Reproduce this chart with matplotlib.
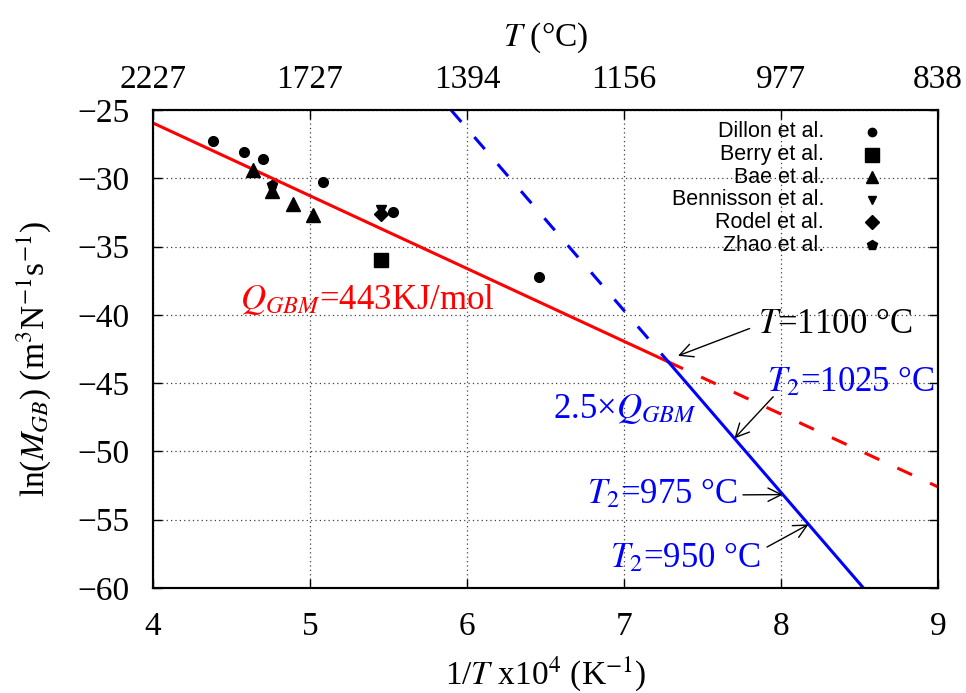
import numpy as np
import matplotlib
matplotlib.use("Agg")
import matplotlib.pyplot as plt

plt.rcParams['font.family'] = ['Liberation Serif', 'DejaVu Serif']
plt.rcParams['mathtext.fontset'] = 'stix'
plt.rcParams['font.size'] = 24

# ==============data===============
dillon_x = [4.38, 4.58, 4.70, 5.08, 5.53, 6.46]
dillon_y = [-27.3, -28.1, -28.6, -30.3, -32.5, -37.2]
berry_x = [5.45]
berry_y = [-36.0]
bae_x = [4.64, 4.76, 4.89, 5.02]
bae_y = [-29.4, -30.9, -31.9, -32.7]
bennisson_x = [5.45]
bennisson_y = [-32.3]
rodel_x = [5.45]
rodel_y = [-32.6]
zhao_x = [4.76]
zhao_y = [-30.5]

# Arrhenius fit: ln(M) = ln(M0) - Q/(R T)
q_gbm = 443e3        # J/mol
r_gas = 8.314
ln_m0 = -4.64
q_factor = 2.5
t_kink = 1100        # degC
t2_marks = [1025, 975, 950]


def inv_t(t_c):
    return 1e4 / (t_c + 273.15)


def ln_m_red(x):
    return ln_m0 - q_gbm / r_gas * np.asarray(x) * 1e-4


x_k = inv_t(t_kink)
y_k = ln_m_red(x_k)
blue_slope = -q_factor * q_gbm / r_gas * 1e-4


def ln_m_blue(x):
    return y_k + blue_slope * (np.asarray(x) - x_k)


fig = plt.figure(figsize=(9.66, 6.93), dpi=100)
ax = fig.add_axes([0.1584, 0.1515, 0.8126, 0.6898])

ymin, ymax = -60, -25

# fitted lines
x_top = x_k + (ymax - y_k) / blue_slope
x_bot = x_k + (ymin - y_k) / blue_slope
red_solid = np.array([4.0, x_k])
red_dash = np.array([x_k, 9.0])
blue_dash = np.array([x_top, x_k])
blue_solid = np.array([x_k, x_bot])
ax.plot(red_solid, ln_m_red(red_solid), color='#ff0000', lw=2.2)
ax.plot(red_dash, ln_m_red(red_dash), color='#ff0000', lw=2.2, dashes=(5.3, 6.5))
ax.plot(blue_dash, ln_m_blue(blue_dash), color='#0000ff', lw=2.2, dashes=(5.2, 6.5))
ax.plot(blue_solid, ln_m_blue(blue_solid), color='#0000ff', lw=2.2)

# experimental points
ax.plot(dillon_x, dillon_y, 'o', color='k', ms=7)
ax.plot(berry_x, berry_y, 's', color='k', ms=10)
ax.plot(bae_x, bae_y, '^', color='k', ms=9.5)
ax.plot(bennisson_x, bennisson_y, 'v', color='k', ms=7)
ax.plot(rodel_x, rodel_y, 'D', color='k', ms=7)
ax.plot(zhao_x, zhao_y, 'p', color='k', ms=7.5)

ax.set_xlim(4, 9)
ax.set_ylim(ymin, ymax)
ax.set_xticks(np.arange(4, 10, 1))
ax.set_yticks(np.arange(-60, -24, 5))
ax.yaxis.set_major_formatter(plt.FuncFormatter(lambda v, p: '\u2212%d' % abs(v)))
ax.grid(True, color='0.25', lw=0.9, linestyle=(0, (1, 2.5)))
ax.tick_params(direction='in', length=6.5, width=1, top=False, right=True)
ax.tick_params(axis='x', pad=17)
ax.tick_params(axis='y', pad=17)
for s in ax.spines.values():
    s.set_linewidth(1.5)

ax.set_xlabel('1/$T$ x10$^4$ (K$^{-1}$)', labelpad=9)
ax.set_ylabel('ln($M_{GB}$) (m$^3$N$^{-1}$s$^{-1}$)')
ax.yaxis.set_label_coords(-0.128, 0.48)

# top axis in Celsius
top = ax.twiny()
top.set_xlim(ax.get_xlim())
top.set_xticks(np.arange(4, 10, 1))
top.xaxis.set_major_formatter(plt.FuncFormatter(lambda v, p: '%d' % round(1e4 / v - 273)))
top.tick_params(direction='in', length=6.5, width=1, pad=11)
top.set_xlabel('$T$ (\u00b0C)', labelpad=13)
for s in top.spines.values():
    s.set_linewidth(1.5)

# annotations
fs = 25
ax.text(4.554, -39.57, '$Q_{GBM}$=443KJ/mol', color='#ff0000', fontsize=fs)
ax.text(6.548, -47.55, '2.5\u00d7$Q_{GBM}$', color='#0000ff', fontsize=fs)
ax.text(7.853, -41.3, '$T$=1100 \u00b0C', color='k', fontsize=fs)
ax.annotate('', xy=(7.344, -43.0), xytext=(7.80, -41.0),
            arrowprops=dict(arrowstyle='->', color='k', lw=1,
                            shrinkA=0, shrinkB=0))
t2_text = [(7.91, -45.6), (6.764, -53.77), (6.911, -58.5)]
t2_tail = [(7.95, -46.0), (7.758, -53.18), (7.911, -57.0)]
for t2, (tx, ty), tail in zip(t2_marks, t2_text, t2_tail):
    xt = inv_t(t2)
    yt = float(ln_m_blue(xt))
    ax.text(tx, ty, '$T_2$=%d \u00b0C' % t2, color='#0000ff', fontsize=fs)
    ax.annotate('', xy=(xt, yt), xytext=tail,
                arrowprops=dict(arrowstyle='->', color='k', lw=1,
                                shrinkA=0, shrinkB=0))

# key: labels right-aligned, symbols to the right
labels = ['Dillon et al.', 'Berry et al.', 'Bae et al.',
          'Bennisson et al.', 'Rodel et al.', 'Zhao et al.']
key_markers = ['o', 's', '^', 'v', 'D', 'p']
key_sizes = [6, 10, 9, 6, 7, 7]
for i, (lab, mk, ms) in enumerate(zip(labels, key_markers, key_sizes)):
    yy = 0.954 - i * 0.0473
    ax.text(0.855, yy, lab, transform=ax.transAxes, ha='right', va='center',
            fontsize=15.5, family='Liberation Sans')
    ax.plot([0.916], [yy], mk, color='k', ms=ms, transform=ax.transAxes,
            clip_on=False)

plt.savefig('out.png', dpi=100)
